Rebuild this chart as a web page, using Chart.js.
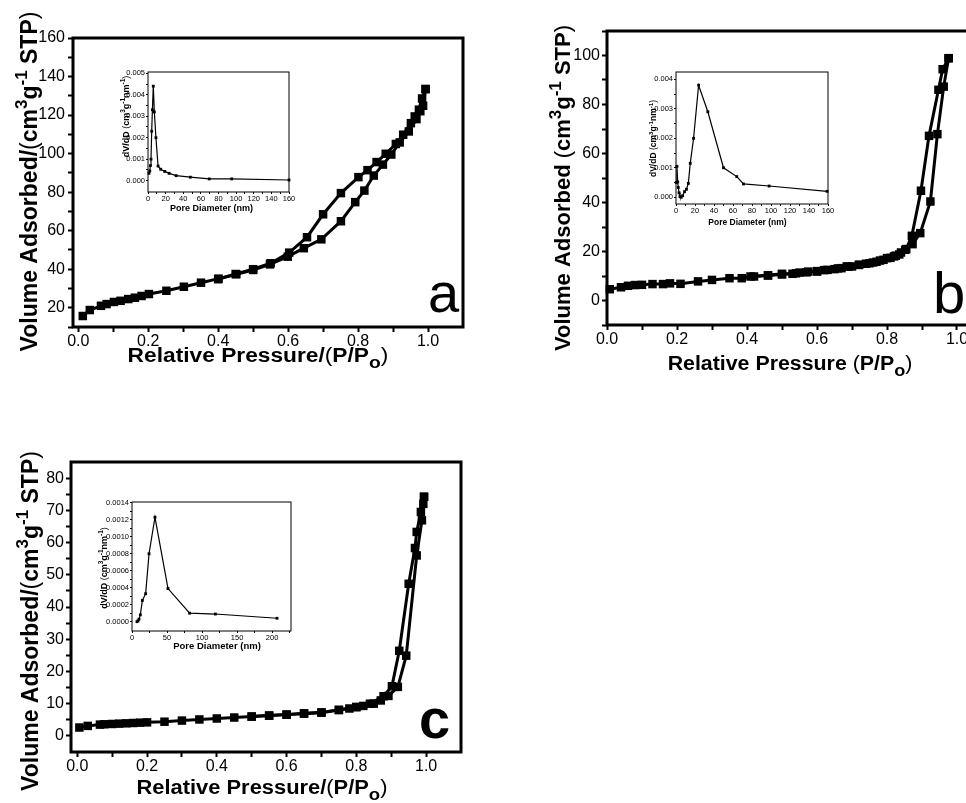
<!DOCTYPE html>
<html>
<head>
<meta charset="utf-8">
<script src="https://cdn.jsdelivr.net/npm/chart.js@4.4.1/dist/chart.umd.min.js"></script>
<style>
  html, body { margin: 0; padding: 0; background: #fff; width: 966px; height: 803px; overflow: hidden; }
  canvas { position: absolute; }
</style>
</head>
<body>
<canvas id="isoA" width="480" height="400" style="left:0px;top:0px"></canvas>
<canvas id="isoB" width="480" height="400" style="left:500px;top:0px"></canvas>
<canvas id="isoC" width="480" height="383" style="left:0px;top:420px"></canvas>
<canvas id="poreA" width="200" height="160" style="left:100px;top:62px"></canvas>
<canvas id="poreB" width="210" height="170" style="left:630px;top:62px"></canvas>
<canvas id="poreC" width="215" height="165" style="left:90px;top:492px"></canvas>
<script>
const FONT = '"Liberation Sans", Arial, sans-serif';

// --- sample a: N2 isotherm ---
const aAdsP = [0.013, 0.033, 0.065, 0.081, 0.102, 0.121, 0.143, 0.162, 0.181, 0.202, 0.252, 0.302, 0.351, 0.401, 0.452, 0.5, 0.548, 0.599, 0.645, 0.695, 0.751, 0.792, 0.818, 0.845, 0.871, 0.895, 0.919, 0.945, 0.967, 0.978, 0.986, 0.993];
const aAdsV = [15.7, 18.8, 21, 21.9, 23, 23.6, 24.5, 25.2, 26.1, 27.1, 28.8, 30.9, 33, 35.1, 37.4, 39.6, 42.5, 46.5, 50.9, 55.5, 64.9, 74.8, 80.8, 88.6, 94.3, 99.5, 105.8, 111.5, 117.9, 122, 124.8, 133.5];
const aDesP = [0.993, 0.983, 0.974, 0.962, 0.951, 0.929, 0.908, 0.879, 0.853, 0.827, 0.801, 0.751, 0.7, 0.654, 0.603, 0.55, 0.5, 0.45, 0.4];
const aDesV = [133.5, 128.6, 122.8, 119.3, 115.8, 109.8, 105, 99.9, 95.6, 91.4, 87.8, 79.5, 68.5, 56.6, 48.6, 43.1, 40, 37.5, 34.8];

// --- sample b ---
const bAdsP = [0.008, 0.04, 0.06, 0.08, 0.1, 0.13, 0.16, 0.18, 0.21, 0.26, 0.3, 0.35, 0.385, 0.41, 0.46, 0.5, 0.53, 0.55, 0.575, 0.6, 0.62, 0.65, 0.67, 0.685, 0.7, 0.72, 0.74, 0.76, 0.78, 0.8, 0.82, 0.835, 0.852, 0.873, 0.895, 0.924, 0.944, 0.962, 0.976];
const bAdsV = [4.6, 5.4, 6, 6.3, 6.4, 6.7, 6.7, 7, 6.8, 7.8, 8.4, 9.1, 9.1, 9.8, 10.3, 10.9, 10.9, 11.4, 11.8, 11.8, 12.4, 12.8, 13.2, 13.9, 13.9, 14.6, 15, 15.5, 16.3, 17.3, 18, 18.8, 20.7, 23, 27.5, 40.4, 67.9, 87.3, 98.9];
const bDesP = [0.976, 0.959, 0.947, 0.92, 0.897, 0.871, 0.855, 0.84, 0.825, 0.81, 0.79, 0.77, 0.75, 0.72, 0.69, 0.66, 0.63, 0.6, 0.57, 0.54, 0.5, 0.46, 0.42];
const bDesV = [98.9, 94.4, 86, 67.2, 44.8, 26.4, 21, 19.6, 18.3, 17.4, 16.6, 15.8, 15.2, 14.5, 13.8, 13.1, 12.5, 12, 11.5, 11.1, 10.6, 10.2, 9.8];

// --- sample c ---
const cAdsP = [0.006, 0.03, 0.065, 0.077, 0.1, 0.12, 0.14, 0.16, 0.18, 0.2, 0.25, 0.3, 0.35, 0.4, 0.45, 0.5, 0.55, 0.6, 0.65, 0.7, 0.75, 0.78, 0.8, 0.82, 0.85, 0.87, 0.892, 0.919, 0.943, 0.973, 0.988, 0.992, 0.994];
const cAdsV = [2.6, 3.1, 3.5, 3.6, 3.7, 3.8, 3.9, 4.0, 4.1, 4.2, 4.4, 4.75, 5.1, 5.4, 5.7, 6.0, 6.3, 6.6, 6.9, 7.2, 8.0, 8.5, 8.9, 9.3, 10, 11, 12.4, 15.2, 24.9, 56, 66.9, 72, 74.2];
const cDesP = [0.994, 0.985, 0.973, 0.968, 0.95, 0.923, 0.902, 0.878, 0.839, 0.8, 0.75, 0.7, 0.65, 0.6, 0.55, 0.5];
const cDesV = [74.2, 69.5, 63.3, 58.3, 47.2, 26.4, 15.4, 12.3, 10, 9, 8.1, 7.3, 7.0, 6.6, 6.3, 6.0];

// --- pore size distributions (insets) ---
const aPoreD = [1.1, 2, 2.7, 3.4, 4.2, 5, 6, 7.2, 9, 11.4, 14.4, 19, 24, 32, 48, 69.5, 95, 160];
const aPoreDv = [0.00034, 0.00045, 0.0007, 0.001, 0.0023, 0.0033, 0.0044, 0.0032, 0.002, 0.00068, 0.00053, 0.00043, 0.00034, 0.00023, 0.00016, 0.00008, 0.00008, 0.00003];
const bPoreD = [0.3, 1.0, 1.8, 2.4, 3.2, 4.2, 5.5, 7, 9, 11, 13, 15, 18.5, 23.8, 33.5, 50, 64, 71, 98, 159];
const bPoreDv = [0.0005, 0.00105, 0.00052, 0.00033, 0.00015, 0.00002, 0.0, 0.00005, 0.00019, 0.00027, 0.00047, 0.00115, 0.002, 0.0038, 0.0029, 0.001, 0.0007, 0.00045, 0.00038, 0.0002];
const cPoreD = [7.1, 8.6, 10, 11.9, 14.8, 19.5, 24.3, 32.8, 51.4, 82.3, 119, 207];
const cPoreDv = [0, 0.00001, 0.00003, 0.00008, 0.00025, 0.00033, 0.0008, 0.00123, 0.00039, 0.0001, 0.00009, 0.00004];

// --- tick values ---
const pTicks = [0, 0.2, 0.4, 0.6, 0.8, 1.0];
const pMinor = [0.1, 0.3, 0.5, 0.7, 0.9];
const aVTicks = [20, 40, 60, 80, 100, 120, 140, 160];
const aVMinor = [10, 30, 50, 70, 90, 110, 130, 150];
const bVTicks = [0, 20, 40, 60, 80, 100];
const bVMinor = [-10, 10, 30, 50, 70, 90, 110];
const cVTicks = [0, 10, 20, 30, 40, 50, 60, 70, 80];
const cVMinor = [5, 15, 25, 35, 45, 55, 65, 75];
const dTicks = [0, 20, 40, 60, 80, 100, 120, 140, 160];
const dMinor = [10, 30, 50, 70, 90, 110, 130, 150];
const cDTicks = [0, 50, 100, 150, 200];
const cDMinor = [25, 75, 125, 175, 225];
const aDvTicks = [0, 0.001, 0.002, 0.003, 0.004, 0.005];
const aDvMinor = [0.0005, 0.0015, 0.0025, 0.0035, 0.0045];
const bDvTicks = [0, 0.001, 0.002, 0.003, 0.004];
const bDvMinor = [0.0005, 0.0015, 0.0025, 0.0035];
const cDvTicks = [0, 0.0002, 0.0004, 0.0006, 0.0008, 0.001, 0.0012, 0.0014];
const cDvMinor = [0.0001, 0.0003, 0.0005, 0.0007, 0.0009, 0.0011, 0.0013];

const B = s => `bold ${s}px ${FONT}`;
const N = s => `${s}px ${FONT}`;

function pairs(xs, ys) {
  return xs.map((x, i) => ({ x: x, y: ys[i] }));
}

// axis with fixed major/minor ticks and a fixed box size
function axis(o) {
  return {
    type: 'linear',
    min: o.min,
    max: o.max,
    afterBuildTicks: scale => {
      scale.ticks = o.major.concat(o.minor).sort((p, q) => p - q).map(v => ({ value: v }));
    },
    afterFit: scale => {
      if (o.horizontal) scale.height = o.size; else scale.width = o.size;
    },
    ticks: {
      autoSkip: false,
      maxRotation: 0,
      color: '#000',
      padding: o.pad,
      font: { family: FONT, size: o.font },
      callback: v => o.major.some(m => Math.abs(m - v) < 1e-9) ? v.toFixed(o.digits) : ''
    },
    grid: { drawOnChartArea: false, tickLength: o.tickLen, tickWidth: o.tickW, tickColor: '#000' },
    border: { display: false }
  };
}

// centred run of mixed-font text; stretch widens it horizontally
function drawRich(ctx, segs, x, y, rotate, stretch) {
  ctx.save();
  ctx.translate(x, y);
  if (rotate) ctx.rotate(-Math.PI / 2);
  if (stretch) ctx.scale(stretch, 1);
  let total = 0;
  segs.forEach(s => { ctx.font = s.font; s.w = ctx.measureText(s.text).width; total += s.w; });
  let cx = -total / 2;
  ctx.fillStyle = '#000';
  ctx.textAlign = 'left';
  ctx.textBaseline = 'alphabetic';
  segs.forEach(s => { ctx.font = s.font; ctx.fillText(s.text, cx, s.dy || 0); cx += s.w; });
  ctx.restore();
}

// frame, axis titles and panel letter
function decor(d) {
  return {
    id: 'decor',
    afterDraw(chart) {
      const ctx = chart.ctx;
      const a = chart.chartArea;
      ctx.save();
      ctx.strokeStyle = '#000';
      ctx.lineWidth = d.frame;
      ctx.strokeRect(a.left, a.top, a.right - a.left, a.bottom - a.top);
      ctx.restore();
      drawRich(ctx, d.yTitle, d.yX, d.yY, true, 1);
      drawRich(ctx, d.xTitle, d.xX, d.xY, false, d.xStretch || 1);
      if (d.letter) {
        ctx.save();
        ctx.fillStyle = '#000';
        ctx.font = d.letterFont;
        ctx.textAlign = 'left';
        ctx.textBaseline = 'alphabetic';
        ctx.fillText(d.letter, d.lX, d.lY);
        ctx.restore();
      }
    }
  };
}

function volumeTitle(sep, s) {
  const sup = Math.round(s * 0.75);
  return [
    { text: 'Volume Adsorbed' + sep, font: B(s) },
    { text: '(', font: N(s) },
    { text: 'cm', font: B(s) },
    { text: '3', font: B(sup), dy: -s * 0.42 },
    { text: 'g', font: B(s) },
    { text: '-1', font: B(sup), dy: -s * 0.42 },
    { text: ' STP', font: B(s) },
    { text: ')', font: N(s) }
  ];
}

function pressureTitle(sep, s) {
  return [
    { text: 'Relative Pressure' + sep, font: B(s) },
    { text: '(', font: N(s) },
    { text: 'P/P', font: B(s) },
    { text: 'o', font: B(Math.round(s * 0.85)), dy: s * 0.3 },
    { text: ')', font: N(s) }
  ];
}

function dvTitle(s) {
  const sup = s * 0.72;
  return [
    { text: 'dV/dD ', font: B(s) },
    { text: '(', font: N(s) },
    { text: 'cm', font: B(s) },
    { text: '3', font: B(sup), dy: -s * 0.4 },
    { text: 'g', font: B(s) },
    { text: '-1', font: B(sup), dy: -s * 0.4 },
    { text: 'nm', font: B(s) },
    { text: '-1', font: B(sup), dy: -s * 0.4 },
    { text: ')', font: N(s) }
  ];
}

function plot(id, series, xAxis, yAxis, pad, d, mark) {
  return new Chart(document.getElementById(id), {
    type: 'scatter',
    data: {
      datasets: series.map(s => ({
        data: s,
        showLine: true,
        borderColor: '#000',
        borderWidth: mark.line,
        pointStyle: 'rect',
        pointRadius: mark.radius,
        pointBackgroundColor: '#000',
        pointBorderColor: '#000',
        pointBorderWidth: 0,
        clip: false
      }))
    },
    options: {
      responsive: false,
      animation: false,
      devicePixelRatio: 1,
      layout: { padding: { top: pad.top, right: pad.right, left: 0, bottom: 0 } },
      plugins: { legend: { display: false }, tooltip: { enabled: false } },
      scales: { x: xAxis, y: yAxis }
    },
    plugins: [decor(d)]
  });
}

const bigMark = { line: 3, radius: 6 };
const smallMark = { line: 1.2, radius: 2 };

// main isotherm panels
plot('isoA', [pairs(aAdsP, aAdsV), pairs(aDesP, aDesV)],
  axis({ min: -0.015, max: 1.1, major: pTicks, minor: pMinor, digits: 1, horizontal: true, size: 73, font: 16, pad: 0, tickLen: 5, tickW: 2 }),
  axis({ min: 10, max: 160, major: aVTicks, minor: aVMinor, digits: 0, size: 73, font: 16, pad: 3, tickLen: 5, tickW: 2 }),
  { top: 38, right: 17 },
  { frame: 3, yTitle: volumeTitle('/', 23), yX: 37, yY: 181.5, xTitle: pressureTitle('/', 20), xX: 258, xY: 362, xStretch: 1.137,
    letter: 'a', letterFont: N(56), lX: 428, lY: 312 },
  bigMark);

plot('isoB', [pairs(bAdsP, bAdsV), pairs(bDesP, bDesV)],
  axis({ min: 0, max: 1.04, major: pTicks, minor: pMinor, digits: 1, horizontal: true, size: 75, font: 16, pad: 0, tickLen: 5, tickW: 2 }),
  axis({ min: -10, max: 110, major: bVTicks, minor: bVMinor, digits: 0, size: 107, font: 16, pad: 2, tickLen: 5, tickW: 2 }),
  { top: 31, right: 9 },
  { frame: 3, yTitle: volumeTitle(' ', 22), yX: 70, yY: 188, xTitle: pressureTitle(' ', 20), xX: 290, xY: 370, xStretch: 1.067,
    letter: 'b', letterFont: N(58), lX: 433, lY: 313 },
  bigMark);

plot('isoC', [pairs(cAdsP, cAdsV), pairs(cDesP, cDesV)],
  axis({ min: -0.018, max: 1.1, major: pTicks, minor: pMinor, digits: 1, horizontal: true, size: 51, font: 16, pad: 0, tickLen: 5, tickW: 2 }),
  axis({ min: -5, max: 85, major: cVTicks, minor: cVMinor, digits: 0, size: 71, font: 16, pad: 2, tickLen: 5, tickW: 2 }),
  { top: 42, right: 19 },
  { frame: 3, yTitle: volumeTitle('/', 23), yX: 37.5, yY: 201, xTitle: pressureTitle('/', 20), xX: 262, xY: 374, xStretch: 1.094,
    letter: 'c', letterFont: B(56), lX: 419, lY: 318 },
  bigMark);

// pore size distribution insets
plot('poreA', [pairs(aPoreD, aPoreDv)],
  axis({ min: 0, max: 160, major: dTicks, minor: dMinor, digits: 0, horizontal: true, size: 30, font: 7.5, pad: 0, tickLen: 2, tickW: 1 }),
  axis({ min: -0.00053, max: 0.00506, major: aDvTicks, minor: aDvMinor, digits: 3, size: 48, font: 7.5, pad: 1, tickLen: 2, tickW: 1 }),
  { top: 10, right: 11 },
  { frame: 1, yTitle: dvTitle(9), yX: 28.5, yY: 54.5, xTitle: [{ text: 'Pore Diameter (nm)', font: B(9) }], xX: 111.5, xY: 149 },
  smallMark);

plot('poreB', [pairs(bPoreD, bPoreDv)],
  axis({ min: 0, max: 160, major: dTicks, minor: dMinor, digits: 0, horizontal: true, size: 28, font: 7.5, pad: 0, tickLen: 2, tickW: 1 }),
  axis({ min: -0.00023, max: 0.00425, major: bDvTicks, minor: bDvMinor, digits: 3, size: 46, font: 7.5, pad: 1, tickLen: 2, tickW: 1 }),
  { top: 10, right: 12 },
  { frame: 1, yTitle: dvTitle(8.5), yX: 26, yY: 76.5, xTitle: [{ text: 'Pore Diameter (nm)', font: B(8.5) }], xX: 117.5, xY: 163 },
  smallMark);

plot('poreC', [pairs(cPoreD, cPoreDv)],
  axis({ min: 0, max: 227, major: cDTicks, minor: cDMinor, digits: 0, horizontal: true, size: 26, font: 7.5, pad: 0, tickLen: 2, tickW: 1 }),
  axis({ min: -0.00011, max: 0.00141, major: cDvTicks, minor: cDvMinor, digits: 4, size: 42, font: 7.5, pad: 1, tickLen: 2, tickW: 1 }),
  { top: 10, right: 14 },
  { frame: 1, yTitle: dvTitle(9), yX: 16.5, yY: 76, xTitle: [{ text: 'Pore Diameter (nm)', font: B(9.5) }], xX: 127, xY: 157 },
  smallMark);
</script>
</body>
</html>
